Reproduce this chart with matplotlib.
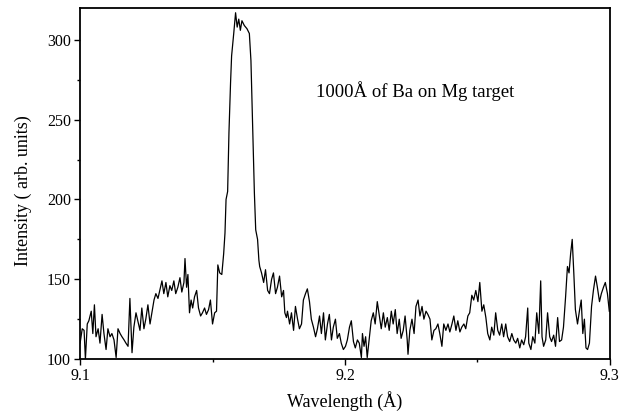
import matplotlib
matplotlib.use("Agg")
import matplotlib.pyplot as plt
from matplotlib.ticker import MultipleLocator

# Spectrum
wavelength = [
    9.1000, 9.1008, 9.1015, 9.1020, 9.1027, 9.1033, 9.1042, 9.1048, 9.1054, 9.1060,
    9.1068, 9.1075, 9.1083, 9.1090, 9.1098, 9.1105, 9.1113, 9.1120, 9.1128, 9.1136,
    9.1143, 9.1151, 9.1158, 9.1166, 9.1173, 9.1181, 9.1188, 9.1196, 9.1203, 9.1211,
    9.1218, 9.1226, 9.1233, 9.1241, 9.1248, 9.1256, 9.1264, 9.1271, 9.1279, 9.1286,
    9.1294, 9.1301, 9.1309, 9.1316, 9.1324, 9.1331, 9.1339, 9.1346, 9.1354, 9.1361,
    9.1369, 9.1377, 9.1384, 9.1392, 9.1396, 9.1402, 9.1407, 9.1413, 9.1419, 9.1425,
    9.1432, 9.1440, 9.1447, 9.1455, 9.1462, 9.1470, 9.1477, 9.1485, 9.1492, 9.1500,
    9.1508, 9.1515, 9.1520, 9.1527, 9.1535, 9.1542, 9.1547, 9.1551, 9.1557, 9.1562,
    9.1568, 9.1572, 9.1580, 9.1587, 9.1593, 9.1599, 9.1605, 9.1611, 9.1620, 9.1630,
    9.1639, 9.1645, 9.1649, 9.1654, 9.1658, 9.1663, 9.1670, 9.1675, 9.1678, 9.1685,
    9.1693, 9.1700, 9.1708, 9.1715, 9.1723, 9.1730, 9.1738, 9.1745, 9.1753, 9.1761,
    9.1768, 9.1773, 9.1779, 9.1783, 9.1791, 9.1798, 9.1806, 9.1813, 9.1821, 9.1828,
    9.1836, 9.1843, 9.1851, 9.1858, 9.1866, 9.1873, 9.1881, 9.1889, 9.1896, 9.1904,
    9.1911, 9.1919, 9.1926, 9.1934, 9.1941, 9.1949, 9.1956, 9.1964, 9.1971, 9.1979,
    9.1986, 9.1994, 9.2002, 9.2009, 9.2017, 9.2024, 9.2032, 9.2039, 9.2047, 9.2054,
    9.2062, 9.2066, 9.2072, 9.2078, 9.2084, 9.2092, 9.2099, 9.2107, 9.2114, 9.2122,
    9.2130, 9.2137, 9.2145, 9.2152, 9.2160, 9.2167, 9.2175, 9.2182, 9.2190, 9.2197,
    9.2205, 9.2212, 9.2220, 9.2227, 9.2235, 9.2238, 9.2245, 9.2253, 9.2261, 9.2268,
    9.2276, 9.2283, 9.2291, 9.2298, 9.2306, 9.2313, 9.2321, 9.2328, 9.2336, 9.2343,
    9.2351, 9.2358, 9.2366, 9.2373, 9.2381, 9.2389, 9.2396, 9.2404, 9.2411, 9.2419,
    9.2426, 9.2434, 9.2441, 9.2449, 9.2456, 9.2464, 9.2471, 9.2479, 9.2486, 9.2494,
    9.2502, 9.2509, 9.2517, 9.2524, 9.2532, 9.2539, 9.2547, 9.2554, 9.2562, 9.2569,
    9.2577, 9.2584, 9.2592, 9.2599, 9.2607, 9.2614, 9.2622, 9.2630, 9.2637, 9.2645,
    9.2652, 9.2660, 9.2667, 9.2675, 9.2682, 9.2690, 9.2694, 9.2702, 9.2709, 9.2717,
    9.2724, 9.2732, 9.2739, 9.2744, 9.2750, 9.2758, 9.2765, 9.2773, 9.2780, 9.2788,
    9.2795, 9.2803, 9.2810, 9.2818, 9.2825, 9.2833, 9.2840, 9.2846, 9.2852, 9.2858,
    9.2864, 9.2870, 9.2878, 9.2886, 9.2892, 9.2898, 9.2904, 9.2910, 9.2916, 9.2923,
    9.2931, 9.2938, 9.2946, 9.2953, 9.2961, 9.2968, 9.2976, 9.2983, 9.2991, 9.2998,
]

intensity = [
    110, 119, 118, 100, 122, 124, 130, 116, 134, 114,
    119, 110, 128, 116, 106, 119, 114, 116, 112, 101,
    119, 116, 114, 112, 110, 108, 138, 104, 120, 129,
    124, 118, 132, 119, 125, 134, 122, 129, 137, 141,
    138, 143, 149, 141, 148, 139, 146, 143, 149, 141,
    145, 151, 142, 148, 163, 145, 153, 129, 137, 132,
    139, 143, 132, 127, 129, 132, 128, 131, 137, 122,
    129, 130, 159, 154, 153, 166, 179, 200, 205, 242,
    273, 290, 304, 317, 308, 313, 306, 312, 309, 307,
    304, 287, 262, 231, 204, 181, 175, 162, 158, 154,
    148, 156, 143, 141, 150, 154, 141, 145, 152, 139,
    143, 129, 126, 130, 122, 129, 118, 133, 125, 119,
    122, 137, 141, 144, 136, 125, 120, 114, 119, 127,
    116, 129, 112, 122, 128, 112, 120, 125, 113, 116,
    110, 106, 108, 112, 120, 124, 111, 107, 112, 110,
    101, 116, 108, 114, 101, 113, 124, 129, 122, 136,
    127, 119, 129, 120, 126, 118, 130, 122, 131, 116,
    125, 113, 118, 127, 112, 103, 118, 125, 116, 133,
    137, 127, 133, 125, 130, 128, 125, 112, 118, 119,
    122, 116, 108, 122, 118, 122, 117, 122, 127, 118,
    124, 117, 120, 122, 119, 127, 129, 140, 137, 143,
    136, 148, 130, 134, 126, 116, 112, 120, 115, 129,
    118, 115, 122, 114, 122, 114, 111, 116, 112, 110,
    113, 107, 112, 109, 114, 132, 110, 106, 114, 110,
    129, 116, 149, 114, 108, 112, 129, 114, 111, 115,
    108, 126, 111, 112, 120, 139, 158, 154, 166, 175,
    154, 131, 122, 131, 137, 116, 125, 107, 106, 110,
    133, 143, 152, 145, 136, 141, 145, 148, 141, 130,
]

x_ticks = [9.1, 9.2, 9.3]
y_ticks = [100, 150, 200, 250, 300]

plt.rcParams['font.family'] = ['Liberation Serif', 'DejaVu Serif']

fig = plt.figure(figsize=(6.21, 4.19), dpi=100)
ax = fig.add_axes([0.129, 0.143, 0.853, 0.838])

ax.plot(wavelength, intensity, color='black', linewidth=0.9)

ax.set_xlim(9.1, 9.3)
ax.set_ylim(100, 320)
ax.set_xticks(x_ticks)
ax.set_xticklabels(['9.1', '9.2', '9.3'])
ax.set_yticks(y_ticks)
ax.xaxis.set_minor_locator(MultipleLocator(0.05))
ax.yaxis.set_minor_locator(MultipleLocator(25))
ax.tick_params(which='both', direction='out', labelsize=11.5, width=1)
ax.tick_params(which='major', length=4, pad=2.5)
ax.tick_params(which='minor', length=2)

for s in ax.spines.values():
    s.set_linewidth(1.3)

ax.set_xlabel('Wavelength (Å)', fontsize=13, labelpad=5)
ax.set_ylabel('Intensity ( arb. units)', fontsize=13, labelpad=8)
ax.yaxis.set_label_coords(-0.09, 0.48)

ax.text(9.189, 268, '1000Å of Ba on Mg target', fontsize=13.5, va='center')

fig.savefig('out.png', dpi=100)
